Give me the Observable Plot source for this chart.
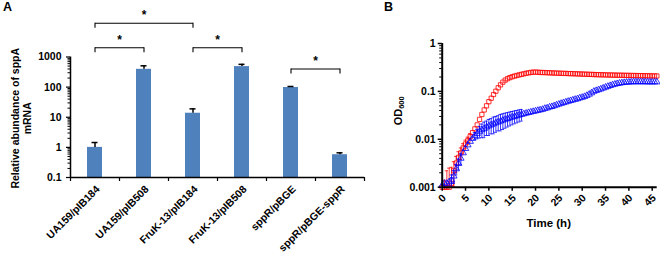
<!DOCTYPE html>
<html><head><meta charset="utf-8">
<script src="https://cdn.jsdelivr.net/npm/d3@7"></script>
<script src="https://cdn.jsdelivr.net/npm/@observablehq/plot@0.6"></script>
<style>
body{margin:0;background:#fff;font-family:"Liberation Sans",Arial,sans-serif;}
#wrap{position:relative;width:660px;height:259px;overflow:hidden;background:#fff;}
.abs{position:absolute;font-weight:bold;color:#000;white-space:nowrap;}
</style></head><body>
<div id="wrap">
  <div id="pa" class="abs" style="left:0;top:0"></div>
  <div id="pb" class="abs" style="left:380px;top:0"></div>
  <div class="abs" style="left:3px;top:0px;font-size:12.5px">A</div>
  <div class="abs" style="left:384px;top:0px;font-size:12.5px">B</div>
</div>
<script>
// ---------- Panel A data ----------
const categories = ["UA159/pIB184","UA159/pIB508","FruK-13/pIB184","FruK-13/pIB508","sppR/pBGE","sppR/pBGE-sppR"];
const abundance = [1.0, 390, 13.6, 480, 97, 0.57];
const abundanceErr = [0.45, 120, 5.4, 90, 8, 0.09];
const yTicksA = [0.1, 1, 10, 100, 1000];
const yMinorA = [0.2,0.3,0.4,0.5,0.6,0.7,0.8,0.9,2,3,4,5,6,7,8,9,20,30,40,50,60,70,80,90,200,300,400,500,600,700,800,900];
const yLabelA = "Relative abundance of sppA\nmRNA";
// significance brackets: from bar index, to bar index, bracket level (value units)
const sigFrom = [0, 0, 2, 4];
const sigTo = [1, 2, 3, 5];
const sigLevel = [2020, 13200, 2020, 400];

// ---------- Panel B data ----------
const times = [
 0,0.5,1,1.5,2,2.5,3,3.5,4,4.5,
 5,5.5,6,6.5,7,7.5,8,8.5,9,9.5,
 10,10.5,11,11.5,12,12.5,13,13.5,14,14.5,
 15,15.5,16,16.5,17,17.5,18,18.5,19,19.5,
 20,20.5,21,21.5,22,22.5,23,23.5,24,24.5,
 25,25.5,26,26.5,27,27.5,28,28.5,29,29.5,
 30,30.5,31,31.5,32,32.5,33,33.5,34,34.5,
 35,35.5,36,36.5,37,37.5,38,38.5,39,39.5,
 40,40.5,41,41.5,42,42.5,43,43.5,44,44.5,
 45,45.5,46];
const odRed = [
 0.001,0.001,0.001,0.001,0.0012,0.0022,0.0032,0.0042,0.0052,0.0066,
 0.008,0.0095,0.0115,0.0138,0.0165,0.020,0.026,0.033,0.041,0.050,
 0.061,0.072,0.086,0.101,0.119,0.137,0.156,0.172,0.184,0.194,
 0.202,0.209,0.215,0.221,0.227,0.233,0.239,0.244,0.249,0.252,
 0.253,0.251,0.249,0.248,0.247,0.246,0.244,0.243,0.242,0.241,
 0.240,0.239,0.238,0.237,0.236,0.235,0.234,0.233,0.232,0.231,
 0.230,0.229,0.228,0.227,0.226,0.225,0.224,0.223,0.222,0.222,
 0.221,0.220,0.220,0.219,0.219,0.218,0.218,0.217,0.217,0.216,
 0.216,0.215,0.215,0.214,0.214,0.213,0.213,0.212,0.212,0.211,
 0.211,0.210,0.210];
const odBlue = [
 0.0011,0.0012,0.0012,0.0013,0.0014,0.0017,0.0024,0.0031,0.0040,0.0052,
 0.0064,0.0076,0.0090,0.0104,0.0118,0.0132,0.0146,0.0158,0.0168,0.0180,
 0.0190,0.0200,0.0210,0.0220,0.0230,0.0240,0.0250,0.0260,0.0270,0.0280,
 0.0290,0.0300,0.0310,0.0320,0.0330,0.0340,0.0350,0.0360,0.0370,0.0380,
 0.0390,0.0400,0.0410,0.0420,0.0440,0.0450,0.0470,0.0480,0.0500,0.0520,
 0.054,0.056,0.058,0.060,0.062,0.064,0.066,0.068,0.070,0.073,
 0.075,0.078,0.082,0.087,0.093,0.100,0.104,0.108,0.112,0.117,
 0.122,0.127,0.132,0.137,0.141,0.145,0.148,0.151,0.153,0.155,
 0.156,0.157,0.158,0.158,0.158,0.158,0.158,0.158,0.157,0.157,
 0.157,0.157,0.157];
const redErrT = [0.5,1,1.5,2,2.5,3,3.5,4,4.5,5,5.5,6];
const redErr = [0.0004,0.0012,0.0015,0.0014,0.0012,0.0012,0.0013,0.0014,0.0015,0.0016,0.0016,0.0016];
const blueErrT = [2,2.5,3,3.5,4,7,7.5,8,8.5,9,9.5,10,10.5,11,11.5,12,12.5,13,13.5,14,14.5,15,15.5,16,16.5,17];
const blueErr = [0.0004,0.0005,0.0006,0.0008,0.001,0.002,0.003,0.004,0.005,0.006,0.006,0.007,0.007,0.008,0.008,0.008,0.009,0.009,0.009,0.009,0.009,0.009,0.009,0.009,0.009,0.009];
const xTicksB = [0,5,10,15,20,25,30,35,40,45];
const yTicksB = [0.001, 0.01, 0.1, 1];
const yMinorB = [0.002,0.003,0.004,0.005,0.006,0.007,0.008,0.009,0.02,0.03,0.04,0.05,0.06,0.07,0.08,0.09,0.2,0.3,0.4,0.5,0.6,0.7,0.8,0.9];
const xLabelB = "Time (h)";
const yLabelB = "OD";
const yLabelBSub = "600";

const FONT = "'Liberation Sans', Arial, sans-serif";

// ---------- Panel A ----------
const WA = 380, mlA = 70, mrA = 16;
const bw = (WA - mlA - mrA) / categories.length;
const rows = categories.map((c, i) => ({c, v: abundance[i], e: abundanceErr[i]}));
const brackets = sigFrom.map((a, i) => ({a: categories[a], b: categories[sigTo[i]], y: sigLevel[i], mid: (a + sigTo[i]) / 2}));
const starWhole = brackets.filter(d => Number.isInteger(d.mid)).map(d => ({...d, m: categories[d.mid]}));
const starHalf = brackets.filter(d => !Number.isInteger(d.mid)).map(d => ({...d, m: categories[Math.floor(d.mid)]}));
const tickDrop = Math.pow(10, -4 / 30);

const plotA = Plot.plot({
  width: WA, height: 259,
  marginLeft: mlA, marginRight: mrA, marginTop: 56.5, marginBottom: 82,
  style: {fontFamily: FONT, fontWeight: "bold", fontSize: "10.5px", background: "transparent", overflow: "visible", color: "#000"},
  x: {type: "band", domain: categories, paddingInner: 0.69, paddingOuter: 0.345, axis: null},
  y: {type: "log", domain: [0.1, 1000]},
  marks: [
    Plot.barY(rows, {x: "c", y1: 0.1, y2: "v", fill: "#4f81bd"}),
    Plot.ruleX(rows, {x: "c", y1: "v", y2: d => d.v + d.e, stroke: "#000", strokeWidth: 1.5}),
    Plot.tickY(rows, {x: "c", y: d => d.v + d.e, stroke: "#000", strokeWidth: 1.5, insetLeft: 4.5, insetRight: 4.5}),
    Plot.axisY(yTicksA, {tickSize: 4, tickPadding: 5, tickFormat: d => String(d), label: null, strokeWidth: 1.2}),
    Plot.axisY(yMinorA, {tickSize: 2.5, tickFormat: () => "", label: null}),
    Plot.text(categories, {x: d => d, y: () => 0.1, text: d => d, rotate: -45, textAnchor: "end", dx: 3, dy: 10}),
    Plot.text([yLabelA], {frameAnchor: "left", text: d => d, rotate: -90, textAnchor: "middle", lineHeight: 1.15, dx: -49, dy: 1}),
    Plot.ruleY([0.1], {stroke: "#000", strokeWidth: 1.5}),
    Plot.ruleX([categories[0]], {dx: -bw / 2, y1: 0.1, y2: 1000, stroke: "#000", strokeWidth: 1.5}),
    Plot.ruleX(categories, {dx: -bw / 2, y1: 0.1, y2: 0.1 * tickDrop, stroke: "#000", strokeWidth: 1.2}),
    Plot.ruleX([categories[categories.length - 1]], {dx: bw / 2, y1: 0.1, y2: 0.1 * tickDrop, stroke: "#000", strokeWidth: 1.2}),
    Plot.link(brackets, {x1: "a", x2: "b", y1: "y", y2: "y", stroke: "#000", strokeWidth: 1.1}),
    Plot.ruleX(brackets, {x: "a", y1: "y", y2: d => d.y * 0.68, stroke: "#000", strokeWidth: 1.1}),
    Plot.ruleX(brackets, {x: "b", y1: "y", y2: d => d.y * 0.68, stroke: "#000", strokeWidth: 1.1}),
    Plot.text(starWhole, {x: "m", y: "y", text: () => "*", fontSize: 12, lineAnchor: "middle", dy: -8}),
    Plot.text(starHalf, {x: "m", y: "y", text: () => "*", fontSize: 12, lineAnchor: "middle", dy: -8, dx: bw / 2})
  ]
});
document.getElementById("pa").appendChild(plotA);

// ---------- Panel B ----------
const red = times.map((t, i) => ({t, v: odRed[i]}));
const blue = times.map((t, i) => ({t, v: odBlue[i]}));
const errRows = (T, E, vals) => T.map((t, i) => {
  const v = vals[times.indexOf(t)];
  return {t, lo: Math.max(v - E[i], 0.00101), hi: v + E[i]};
});
const redE = errRows(redErrT, redErr, odRed);
const blueE = errRows(blueErrT, blueErr, odBlue);
const cap = 0.35;

const plotB = Plot.plot({
  width: 280, height: 259,
  marginLeft: 61.7, marginRight: 3.3, marginTop: 43, marginBottom: 72.3,
  style: {fontFamily: FONT, fontWeight: "bold", fontSize: "10.5px", background: "transparent", overflow: "visible", color: "#000"},
  x: {type: "linear", domain: [0, 46.07]},
  y: {type: "log", domain: [0.001, 1]},
  marks: [
    Plot.ruleX(redE, {x: "t", y1: "lo", y2: "hi", stroke: "#ff0000", strokeWidth: 0.8}),
    Plot.ruleY(redE, {y: "hi", x1: d => d.t - cap, x2: d => d.t + cap, stroke: "#ff0000", strokeWidth: 0.8}),
    Plot.ruleY(redE, {y: "lo", x1: d => d.t - cap, x2: d => d.t + cap, stroke: "#ff0000", strokeWidth: 0.8}),
    Plot.dot(red, {x: "t", y: "v", symbol: "square", r: 2.4, stroke: "#ff0000", fill: "none", strokeWidth: 0.8}),
    Plot.ruleX(blueE, {x: "t", y1: "lo", y2: "hi", stroke: "#0000ff", strokeWidth: 0.8}),
    Plot.ruleY(blueE, {y: "hi", x1: d => d.t - cap, x2: d => d.t + cap, stroke: "#0000ff", strokeWidth: 0.8}),
    Plot.ruleY(blueE, {y: "lo", x1: d => d.t - cap, x2: d => d.t + cap, stroke: "#0000ff", strokeWidth: 0.8}),
    Plot.dot(blue, {x: "t", y: "v", symbol: "triangle", r: 2.4, stroke: "#0000ff", fill: "none", strokeWidth: 0.8}),
    Plot.axisY(yTicksB, {tickSize: 4, tickPadding: 2.5, tickFormat: d => String(d), label: null, strokeWidth: 1.5}),
    Plot.axisY(yMinorB, {tickSize: 2.5, tickFormat: () => "", label: null}),
    Plot.axisX(xTicksB, {tickSize: 4, tickFormat: () => "", label: null, strokeWidth: 1.5}),
    Plot.text(xTicksB, {x: d => d, y: () => 0.001, text: d => String(d), rotate: -45, textAnchor: "end", dx: 2, dy: 9}),
    Plot.text([xLabelB], {frameAnchor: "bottom", text: d => d, fontSize: 11.5, dy: 40, dx: -1}),
    Plot.text([yLabelB], {frameAnchor: "left", text: d => d, fontSize: 11, rotate: -90, textAnchor: "start", dx: -44, dy: 10}),
    Plot.text([yLabelBSub], {frameAnchor: "left", text: d => d, fontSize: 7.5, rotate: -90, textAnchor: "start", dx: -41, dy: -6.5}),
    Plot.ruleX([0], {stroke: "#000", strokeWidth: 2}),
    Plot.ruleY([0.001], {stroke: "#000", strokeWidth: 2})
  ]
});
document.getElementById("pb").appendChild(plotB);
</script>
</body></html>
